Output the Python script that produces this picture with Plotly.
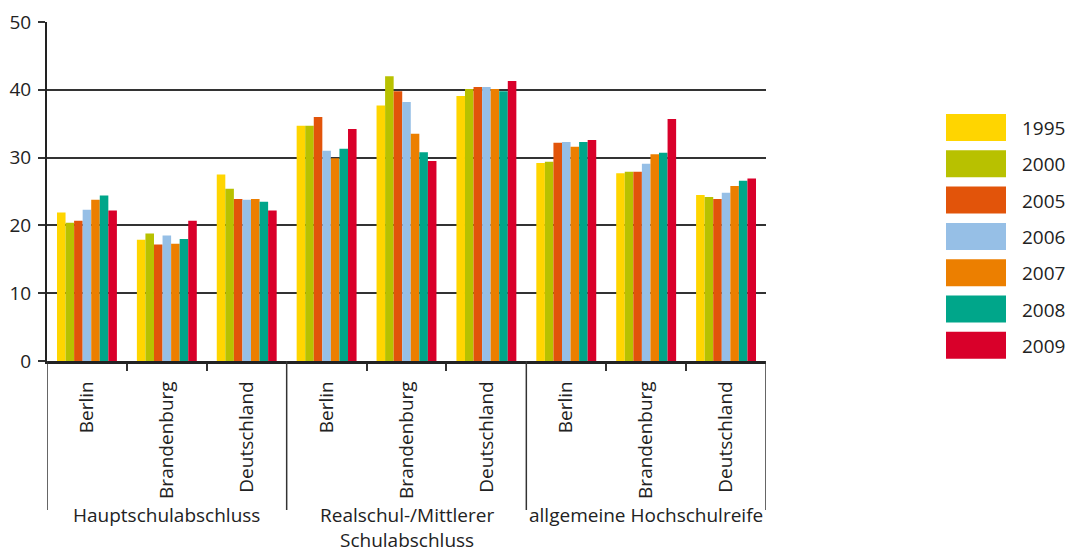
import plotly.graph_objects as go

# Schulabschluesse in Prozent, je Jahr: 3 Abschlussarten x 3 Regionen
regions = ["Berlin", "Brandenburg", "Deutschland"]
groups = ["Hauptschulabschluss", "Realschul-/Mittlerer<br>Schulabschluss", "allgemeine Hochschulreife"]
years = ["1995", "2000", "2005", "2006", "2007", "2008", "2009"]
colors = ["#FFD500", "#B8C100", "#E2540A", "#96BFE6", "#EC7F00", "#00A68A", "#D9002A"]

v1995 = [21.9, 17.9, 27.5, 34.7, 37.7, 39.1, 29.2, 27.7, 24.5]
v2000 = [20.4, 18.8, 25.4, 34.7, 42.0, 40.1, 29.4, 27.9, 24.2]
v2005 = [20.7, 17.2, 23.9, 36.0, 39.8, 40.4, 32.2, 27.9, 23.9]
v2006 = [22.3, 18.5, 23.8, 31.0, 38.2, 40.4, 32.3, 29.1, 24.8]
v2007 = [23.8, 17.3, 23.9, 29.9, 33.5, 40.1, 31.6, 30.5, 25.8]
v2008 = [24.4, 18.0, 23.5, 31.3, 30.8, 39.8, 32.3, 30.7, 26.6]
v2009 = [22.2, 20.7, 22.2, 34.2, 29.5, 41.3, 32.6, 35.7, 26.9]
series = [v1995, v2000, v2005, v2006, v2007, v2008, v2009]

W, H = 1070, 551
L, R, T, B = 47, 766, 22, 361            # plot area in pixels
FONT = "Open Sans, Noto Sans, sans-serif"
FS = 19
TXT = "#222222"
LINE = "#333333"

def px(x):  # pixel -> paper x
    return (x - L) / (R - L)

def py(y):  # pixel -> paper y
    return (B - y) / (B - T)

xs = list(range(len(regions) * len(groups)))

fig = go.Figure()
for name, vals, col in zip(years, series, colors):
    fig.add_trace(go.Bar(x=xs, y=vals, name=name, marker=dict(color=col, line=dict(width=0))))

shapes = []
# lange Trennlinien zwischen den Abschlussarten
for gx in [-0.5, 2.5, 5.5, 8.5]:
    shapes.append(dict(type="line", xref="x", yref="paper", x0=gx, x1=gx, y0=0, y1=py(510),
                       line=dict(color=LINE, width=1.5)))

annotations = []
for i, g in enumerate(groups):
    annotations.append(dict(x=i * 3 + 1, y=py(500), xref="x", yref="paper", text=g, showarrow=False,
                            xanchor="center", yanchor="top", font=dict(family=FONT, size=FS, color=TXT)))

# Legende als grosse Farbkaesten
for i, (name, col) in enumerate(zip(years, colors)):
    top = 114 + i * 36.3
    shapes.append(dict(type="rect", xref="paper", yref="paper", x0=px(946), x1=px(1006),
                       y0=py(top + 27), y1=py(top), fillcolor=col, line=dict(width=0)))
    annotations.append(dict(x=px(1020), y=py(top + 14), xref="paper", yref="paper", text=name,
                            showarrow=False, xanchor="left", yanchor="middle",
                            font=dict(family=FONT, size=FS, color=TXT)))

fig.update_layout(
    width=W, height=H,
    margin=dict(l=L, r=W - R, t=T, b=H - B, autoexpand=False),
    paper_bgcolor="white", plot_bgcolor="white",
    barmode="group", bargap=0.25, bargroupgap=0,
    showlegend=False,
    font=dict(family=FONT, size=FS, color=TXT),
    shapes=shapes, annotations=annotations,
    xaxis=dict(range=[-0.5, 8.5], tickmode="array", tickvals=xs, ticktext=regions * 3,
               tickangle=-90, ticks="", ticklabelstandoff=10, showgrid=False, zeroline=False,
               showline=True, linecolor="#222", linewidth=2.5, automargin=False,
               tickfont=dict(family=FONT, size=FS, color=TXT),
               minor=dict(tickmode="array", tickvals=[0.5, 1.5, 3.5, 4.5, 6.5, 7.5],
                          ticks="outside", ticklen=7, tickwidth=1.5, tickcolor=LINE, showgrid=False)),
    yaxis=dict(range=[0, 50], tickvals=[0, 10, 20, 30, 40, 50], showgrid=True, gridcolor=LINE,
               gridwidth=2, zeroline=False, showline=True, linecolor="#222", linewidth=2,
               ticks="outside", ticklen=7, tickwidth=2, tickcolor=LINE, ticklabelstandoff=3,
               automargin=False, tickfont=dict(family=FONT, size=FS, color=TXT)),
)

# Seitenrand entfernen, damit die Grafik genau ins Fenster passt
fig.write_html("out.html", config={"displayModeBar": False},
               post_script="document.body.style.margin='0';document.body.style.overflow='hidden';")
